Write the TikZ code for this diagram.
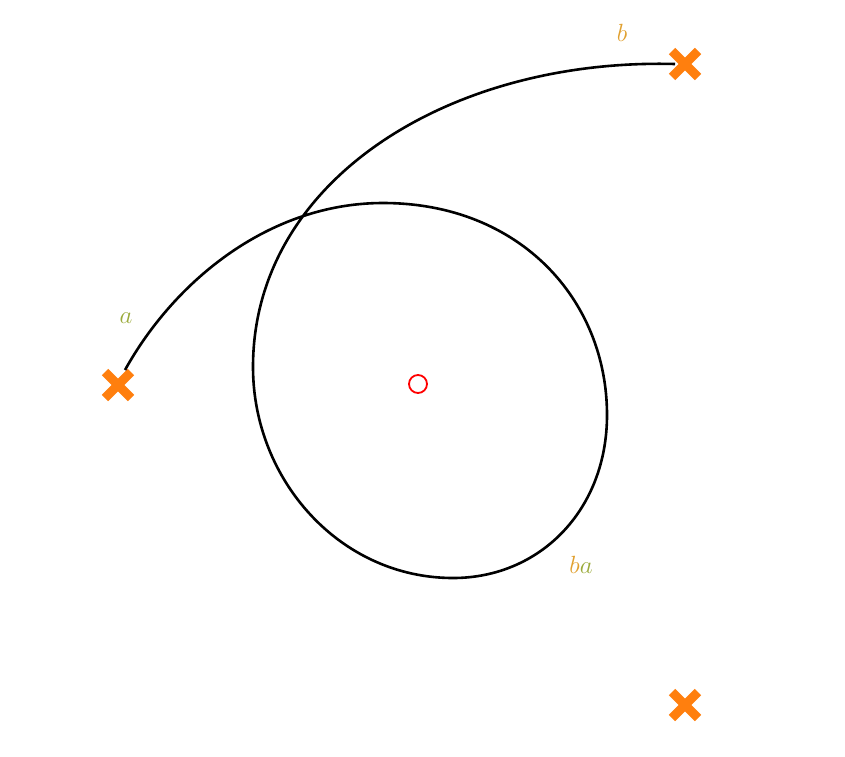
\documentclass[tikz,border=0pt]{standalone}
\begin{document}
\begin{tikzpicture}[x=1pt,y=-1pt,
  lbl/.style={font=\fontsize{24}{28}\selectfont}]
\definecolor{gA}{HTML}{9AAA3A}
\definecolor{oB}{HTML}{E0A030}
\definecolor{xO}{HTML}{FF7F0E}
\useasboundingbox (0,0) rectangle (845,756);
\foreach \n/\px/\py in {ca/118/385,cb/685/64,cc/685/705}{
  \begin{scope}[shift={(\px,\py)}]
  \coordinate (\n) at (0,0);
  \draw[draw=xO,line width=9pt] (-13,-13) -- (13,13) (-13,13) -- (13,-13);
  \end{scope}
}
\node[circle,draw=red,line width=1.8pt,minimum size=18pt,inner sep=0pt] (o) at (418,384) {};
\coordinate (s) at (125,370);
\coordinate (e) at (675,64);
\draw[line width=2.6pt] (s) .. controls (175,280) and (270,203) .. (383,203)
  .. controls (520,203) and (607,300) .. (607,415)
  .. controls (607,510) and (540,578) .. (453,578)
  .. controls (340,578) and (253,480) .. (253,367)
  .. controls (253,180) and (450,58) .. (e);
\node[lbl,text=gA] (la) at (126,318) {$a$};
\node[lbl,text=oB] (lb) at (622,33) {$b$};
\node[lbl] (lba) at (581,565) {$\textcolor{oB}{b}\textcolor{gA}{a}$};
\end{tikzpicture}
\end{document}
